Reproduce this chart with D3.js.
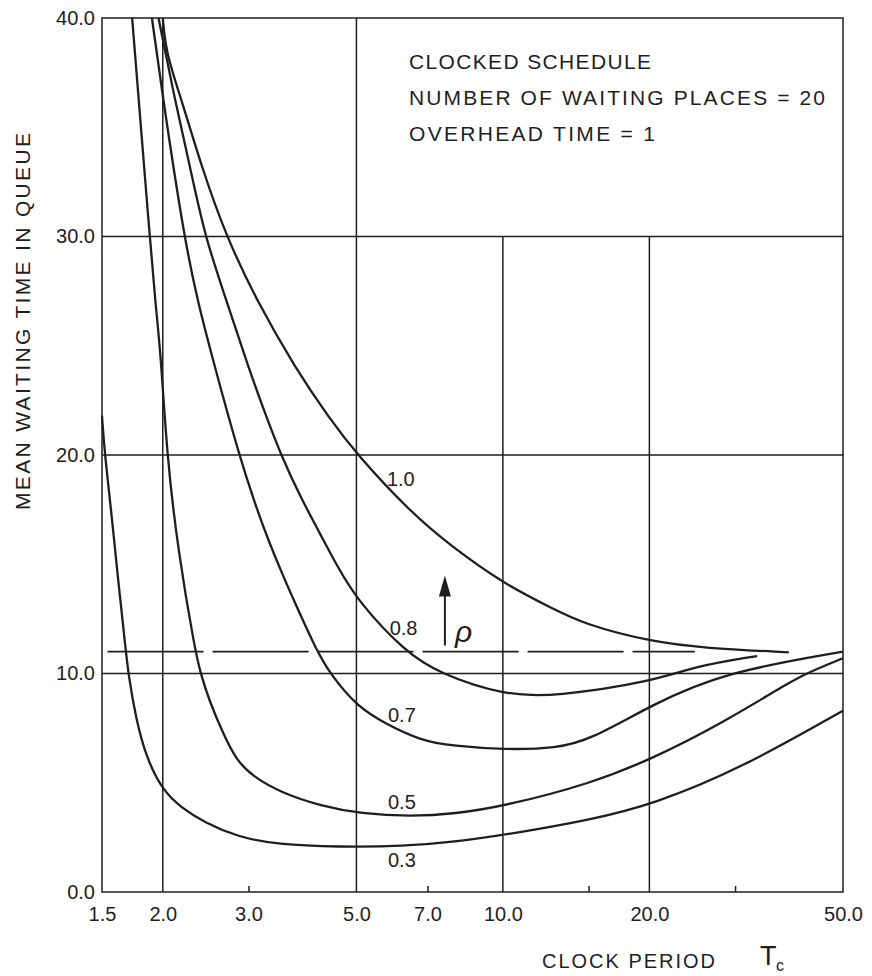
<!DOCTYPE html>
<html>
<head>
<meta charset="utf-8">
<script src="https://cdn.jsdelivr.net/npm/d3@7"></script>
<style>
  body { margin: 0; background: #fff; }
  svg text { font-family: "Liberation Sans", Arial, sans-serif; fill: #1e1e1e; }
</style>
</head>
<body>
<script>
const width = 872,
  height = 976;

//////////// data: [clock period Tc, mean waiting time] ////////////
const rhoNames = ["1.0", "0.8", "0.7", "0.5", "0.3"];

const rho10 = [
  [2.0, 40], [2.03, 38.4], [2.19, 36.2], [2.41, 33.1], [2.7, 30.0], [3.13, 27.0],
  [3.74, 24.0], [4.39, 21.7], [5.02, 20.0], [6.45, 17.4], [7.8, 15.85], [10.05, 14.1],
  [12.6, 13.0], [14.7, 12.25], [20.2, 11.45], [26, 11.16], [38.7, 10.97]
];
const rho08 = [
  [1.96, 40], [2.12, 36.2], [2.28, 33.1], [2.44, 30.0], [2.71, 27.0], [3.0, 24.0],
  [3.27, 21.7], [3.5, 20.0], [3.83, 18.1], [4.21, 16.4], [4.58, 14.85], [5.04, 13.3],
  [6.29, 11.0], [7.4, 10.0], [10.07, 9.0], [12.8, 8.95], [20.3, 9.63], [24.9, 10.34],
  [33.3, 10.8]
];
const rho07 = [
  [1.9, 40], [1.99, 36.7], [2.21, 30.0], [2.36, 27.0], [2.56, 24.0], [2.87, 20.0],
  [3.08, 17.9], [3.28, 16.2], [3.56, 14.3], [3.71, 13.4], [4.13, 11.1], [4.42, 9.96],
  [5.03, 8.46], [5.74, 7.7], [6.76, 6.94], [7.9, 6.68], [10.1, 6.51], [12.9, 6.58],
  [15.1, 6.96], [20.3, 8.58], [28.2, 10.03], [50, 11.0]
];
const rho05 = [
  [1.73, 40], [1.88, 30.0], [1.93, 27.0], [1.98, 24.7], [2.04, 19.94], [2.15, 15.6],
  [2.33, 11.05], [2.39, 10.04], [2.49, 8.77], [2.66, 7.26], [2.83, 6.04], [3.07, 5.27],
  [3.5, 4.55], [4.23, 3.93], [5.11, 3.58], [6.48, 3.46], [7.94, 3.57], [10.14, 3.95],
  [15.1, 4.95], [20.4, 6.12], [28.3, 7.74], [38.8, 9.6], [42.6, 10.06], [50, 10.7]
];
const rho03 = [
  [1.5, 21.8], [1.52, 20.0], [1.57, 17.27], [1.62, 14.2], [1.68, 11.0], [1.7, 9.96],
  [1.76, 7.96], [1.85, 6.14], [2.0, 4.64], [2.18, 3.87], [2.43, 3.19], [2.85, 2.52],
  [3.44, 2.17], [4.57, 2.06], [6.27, 2.09], [7.95, 2.29], [10.2, 2.63], [15.2, 3.31],
  [20.4, 4.02], [30.8, 5.65], [50, 8.3]
];
const curves = [rho10, rho08, rho07, rho05, rho03];

const dashedLine = [[1.54, 11.0], [24.8, 11.0]];

const xTickValues = [1.5, 2, 3, 5, 7, 10, 20, 50];
const xTickLabels = ["1.5", "2.0", "3.0", "5.0", "7.0", "10.0", "20.0", "50.0"];
const xMinorTicks = [3, 7, 15, 30];
const yTickValues = [0, 10, 20, 30, 40];

const vGridFull = [2, 5];
const vGridLower = [10, 20];
const hGrid = [10, 20, 30];

const infoLines = [
  "CLOCKED SCHEDULE",
  "NUMBER OF WAITING PLACES = 20",
  "OVERHEAD TIME = 1"
];

// where the rho names sit, in data units
const rhoNameAt = [[6.17, 18.9], [6.25, 12.1], [6.2, 8.1], [6.2, 4.14], [6.2, 1.45]];

//////////// scales ////////////
const xScale = d3.scaleLog().domain([1.5, 50]).range([102, 843]);
const yScale = d3.scaleLinear().domain([0, 40]).range([892, 18]);

const ink = "#1e1e1e";

const svg = d3
  .select("body")
  .append("svg")
  .attr("width", width)
  .attr("height", height);

//////////// grid ////////////
const grid = svg
  .append("g")
  .attr("stroke", ink)
  .attr("stroke-width", 1.5)
  .attr("fill", "none");

grid
  .selectAll("line.h")
  .data(hGrid)
  .enter()
  .append("line")
  .attr("class", "h")
  .attr("x1", xScale(1.5))
  .attr("x2", xScale(50))
  .attr("y1", (d) => yScale(d))
  .attr("y2", (d) => yScale(d));

grid
  .selectAll("line.vf")
  .data(vGridFull)
  .enter()
  .append("line")
  .attr("class", "vf")
  .attr("x1", (d) => xScale(d))
  .attr("x2", (d) => xScale(d))
  .attr("y1", yScale(0))
  .attr("y2", yScale(40));

// the 10 and 20 lines stop under the text block
grid
  .selectAll("line.vl")
  .data(vGridLower)
  .enter()
  .append("line")
  .attr("class", "vl")
  .attr("x1", (d) => xScale(d))
  .attr("x2", (d) => xScale(d))
  .attr("y1", yScale(0))
  .attr("y2", yScale(30));

grid
  .append("rect")
  .attr("x", xScale(1.5))
  .attr("y", yScale(40))
  .attr("width", xScale(50) - xScale(1.5))
  .attr("height", yScale(0) - yScale(40));

//////////// axes ////////////
const xAxis = svg
  .append("g")
  .attr("transform", `translate(0,${yScale(0)})`)
  .call(
    d3
      .axisBottom(xScale)
      .tickValues(xTickValues)
      .tickSize(0)
      .tickPadding(15)
      .tickFormat((d, i) => xTickLabels[i])
  );
xAxis.select(".domain").remove();
xAxis.selectAll("text").style("font-size", "20px").attr("fill", ink);

const xMinor = svg
  .append("g")
  .attr("transform", `translate(0,${yScale(0)})`)
  .call(d3.axisBottom(xScale).tickValues(xMinorTicks).tickSize(-6).tickFormat(""));
xMinor.select(".domain").remove();
xMinor.selectAll("line").attr("stroke", ink).attr("stroke-width", 1.5);

const yAxis = svg
  .append("g")
  .attr("transform", `translate(${xScale(1.5)},0)`)
  .call(
    d3
      .axisLeft(yScale)
      .tickValues(yTickValues)
      .tickSize(0)
      .tickPadding(7)
      .tickFormat(d3.format(".1f"))
  );
yAxis.select(".domain").remove();
yAxis.selectAll("text").style("font-size", "20px").attr("fill", ink);

//////////// curves ////////////
const line = d3
  .line()
  .x((d) => xScale(d[0]))
  .y((d) => yScale(d[1]))
  .curve(d3.curveBasis);

svg
  .append("g")
  .selectAll("path")
  .data(curves)
  .enter()
  .append("path")
  .attr("d", line)
  .attr("fill", "none")
  .attr("stroke", ink)
  .attr("stroke-width", 2.3);

svg
  .append("path")
  .attr("d", d3.line().x((d) => xScale(d[0])).y((d) => yScale(d[1]))(dashedLine))
  .attr("fill", "none")
  .attr("stroke", ink)
  .attr("stroke-width", 1.8)
  .attr("stroke-dasharray", "96,9");

svg
  .append("g")
  .selectAll("text")
  .data(rhoNames)
  .enter()
  .append("text")
  .attr("x", (d, i) => xScale(rhoNameAt[i][0]))
  .attr("y", (d, i) => yScale(rhoNameAt[i][1]))
  .attr("text-anchor", "middle")
  .attr("dominant-baseline", "central")
  .style("font-size", "20px")
  .text((d) => d);

//////////// rho arrow ////////////
const ax = xScale(7.6),
  ay0 = yScale(11.28),
  ay1 = yScale(14.48);

svg
  .append("line")
  .attr("x1", ax)
  .attr("x2", ax)
  .attr("y1", ay0)
  .attr("y2", ay1 + 18)
  .attr("stroke", ink)
  .attr("stroke-width", 2);

svg
  .append("path")
  .attr("d", `M${ax},${ay1} L${ax - 6},${ay1 + 21} L${ax + 6},${ay1 + 21} Z`)
  .attr("fill", ink);

svg
  .append("text")
  .attr("x", xScale(8.3))
  .attr("y", yScale(11.93))
  .attr("text-anchor", "middle")
  .attr("dominant-baseline", "central")
  .style("font-size", "30px")
  .style("font-style", "italic")
  .text("ρ");

//////////// info text ////////////
const infoWidths = [242, 416, 246];
svg
  .append("g")
  .selectAll("text")
  .data(infoLines)
  .enter()
  .append("text")
  .attr("x", 409)
  .attr("y", (d, i) => 69 + i * 36)
  .attr("textLength", (d, i) => infoWidths[i])
  .attr("lengthAdjust", "spacing")
  .style("font-size", "21px")
  .text((d) => d);

//////////// axis titles ////////////
svg
  .append("text")
  .attr("transform", `translate(30,${(133 + 510) / 2}) rotate(-90)`)
  .attr("text-anchor", "middle")
  .attr("textLength", 377)
  .attr("lengthAdjust", "spacing")
  .style("font-size", "21px")
  .text("MEAN WAITING TIME IN QUEUE");

svg
  .append("text")
  .attr("x", 542)
  .attr("y", 968)
  .attr("textLength", 173)
  .attr("lengthAdjust", "spacing")
  .style("font-size", "20px")
  .text("CLOCK PERIOD");

svg
  .append("text")
  .attr("x", 760)
  .attr("y", 965)
  .style("font-size", "27px")
  .text("T");

svg
  .append("text")
  .attr("x", 776)
  .attr("y", 971)
  .style("font-size", "16px")
  .text("c");
</script>
</body>
</html>
